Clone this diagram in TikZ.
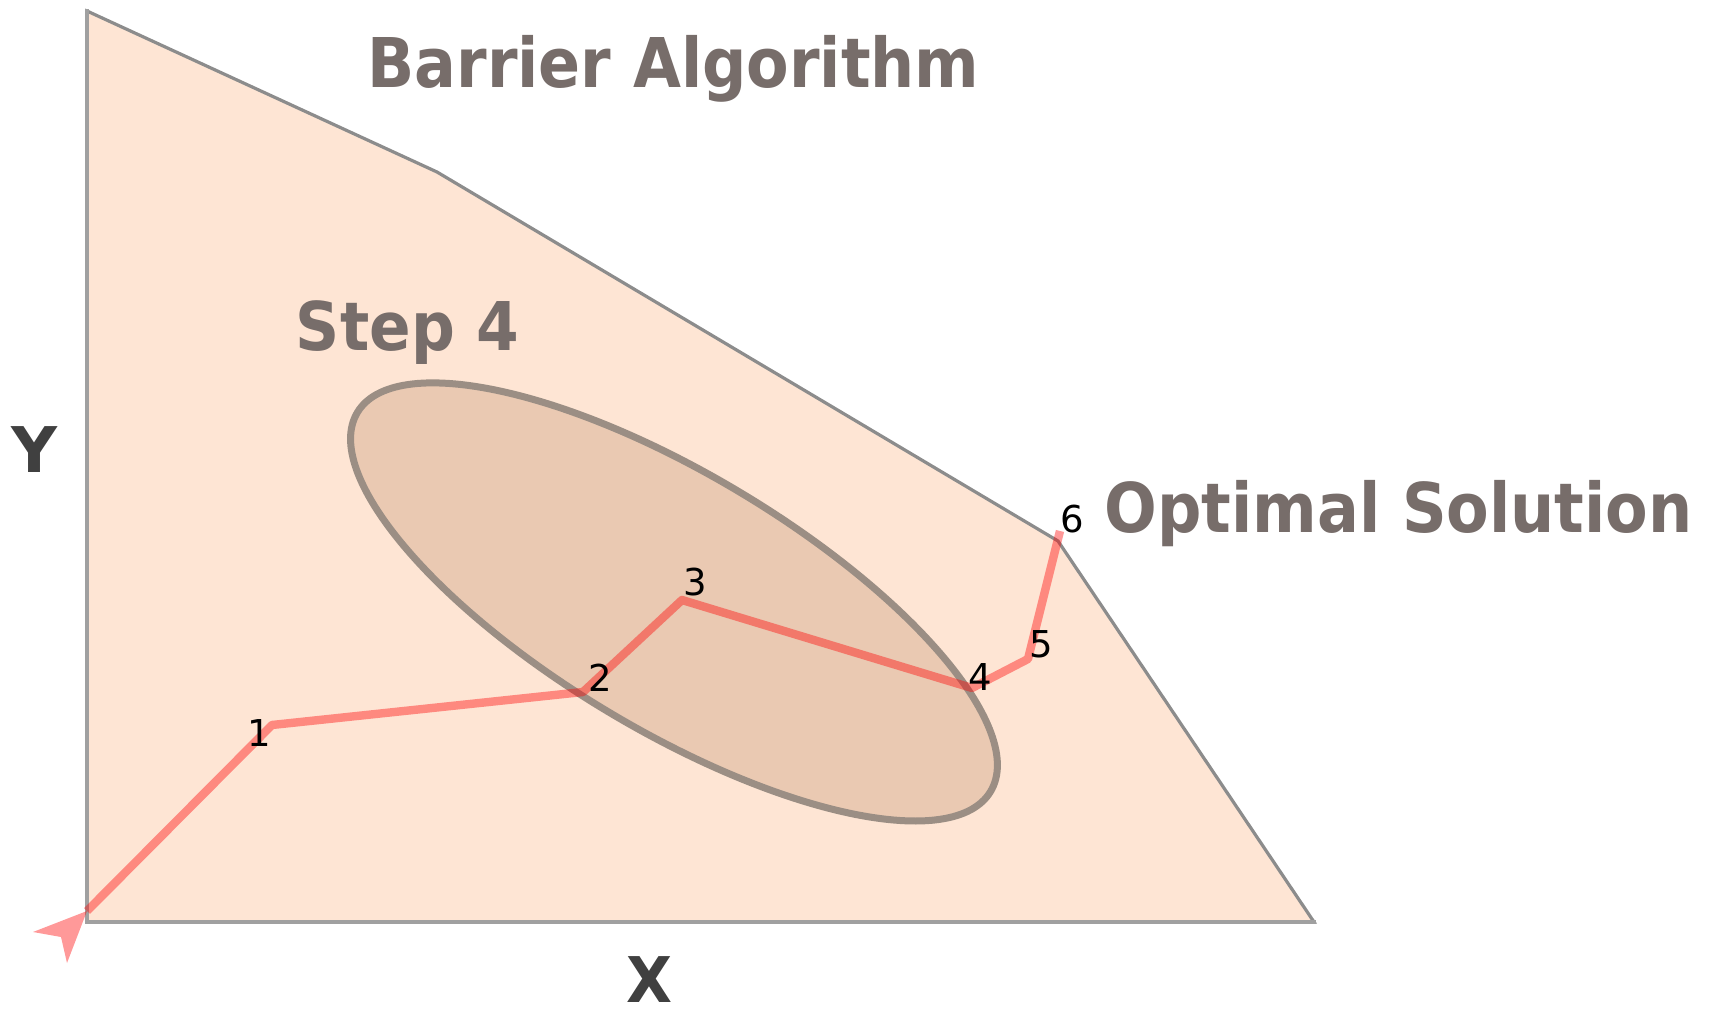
\documentclass[tikz,border=0pt]{standalone}
\usepackage{fontspec}
\setmainfont{DejaVu Sans}
\usepackage{graphicx}
\definecolor{regionfill}{HTML}{FEE5D4}
\definecolor{regionedge}{HTML}{8C8C8C}
\definecolor{axisedge}{HTML}{A0A0A0}
\definecolor{ellfill}{HTML}{EAC9B2}
\definecolor{elledge}{HTML}{9B8E84}
\definecolor{titlegray}{HTML}{776D6A}
\definecolor{axisgray}{HTML}{404040}
\tikzset{
 region/.style={fill=regionfill, draw=regionedge, line width=1.6pt, line join=miter},
 axisedges/.style={draw=axisedge, line width=2.4pt, line cap=rect},
 stepellipse/.style={fill=ellfill, draw=elledge, line width=3.5pt},
 route/.style={draw=red, line width=4.2pt, draw opacity=0.4, line join=round},
 routehead/.style={fill=red, fill opacity=0.4},
 titlelabel/.style={inner sep=0pt, anchor=base, text=titlegray, font=\bfseries\fontsize{34.3pt}{36pt}\selectfont},
 axislabel/.style={inner sep=0pt, anchor=base, text=axisgray, font=\bfseries\fontsize{31.5pt}{34pt}\selectfont},
 numlabel/.style={inner sep=0pt, anchor=base, text=black, font=\fontsize{18.5pt}{20pt}\selectfont},
}
\begin{document}
\begin{tikzpicture}[x=0.5pt,y=-0.5pt]
\useasboundingbox (0,0) rectangle (1710,1010);
% feasible region
\coordinate (ctop) at (87,11);
\coordinate (corig) at (87,922);
\coordinate (cright) at (1314,922);
\draw[region] (ctop) -- (437,172) -- (1058,541) -- (cright) -- (corig) -- cycle;
\draw[axisedges] (ctop) -- (corig) -- (cright);
% step ellipse
\coordinate (E) at (674,602);
\draw[stepellipse, rotate around={-30.9:(E)}] (E) ellipse [x radius=184.5pt, y radius=64pt];
% route
\coordinate (p0) at (87,911);
\coordinate (p1) at (272,725);
\coordinate (p2) at (583,692);
\coordinate (p3) at (682,600);
\coordinate (p4) at (972,688);
\coordinate (p5) at (1028,659);
\coordinate (p6) at (1060,531);
\draw[route] (p0) -- (p1) -- (p2) -- (p3) -- (p4) -- (p5) -- (p6);
\coordinate (b1) at (33,932);
\coordinate (bn) at (61,937);
\coordinate (b2) at (67,963);
\fill[routehead] (p0) -- (b1) -- (bn) -- (b2) -- cycle;
% titles
\node[titlelabel] (title) at (673.5,88) {\resizebox{306pt}{\height}{Barrier Algorithm}};
\node[titlelabel] (optimal) at (1398.5,533) {\resizebox{294pt}{\height}{Optimal Solution}};
\node[titlelabel, font=\bfseries\fontsize{33.6pt}{36pt}\selectfont] (step) at (407.5,351) {\resizebox{111.5pt}{\height}{Step 4}};
\node[axislabel] (ylab) at (35,473) {\resizebox{23pt}{\height}{Y}};
\node[axislabel] (xlab) at (649.5,1002) {\resizebox{23pt}{\height}{X}};
% numbers
\node[numlabel] (n1) at (259,747) {1};
\node[numlabel] (n2) at (600,691) {2};
\node[numlabel] (n3) at (695,596) {3};
\node[numlabel] (n4) at (980,690) {4};
\node[numlabel] (n5) at (1041,658) {5};
\node[numlabel] (n6) at (1072,533) {6};
\end{tikzpicture}
\end{document}
